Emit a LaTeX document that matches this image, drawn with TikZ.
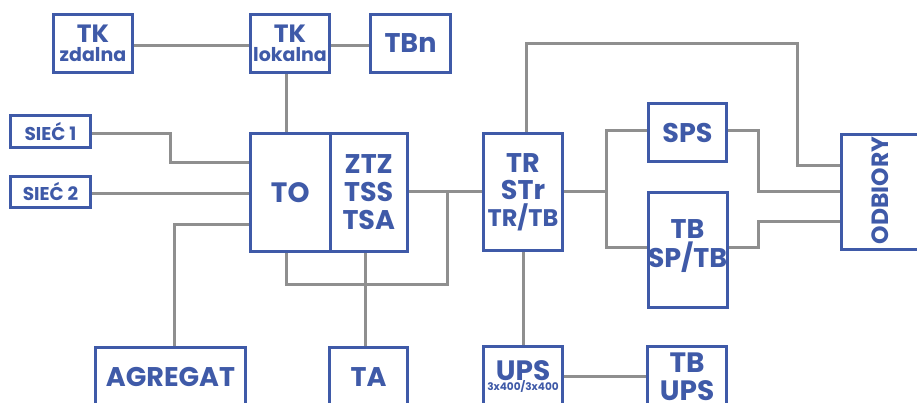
\documentclass[tikz,border=0pt]{standalone}
\usepackage{fontspec}
\setmainfont{Poppins}
\definecolor{bl}{HTML}{3F5AA8}
\definecolor{gr}{HTML}{8F8F8F}
\newcommand\myfs[2]{\fontsize{#1}{#2}\selectfont}
\begin{document}
\begin{tikzpicture}[x=1pt,y=-1pt,
  box/.style={draw=bl, line width=3pt, fill=white, inner sep=0pt, text=bl, align=center},
  lbl/.style={text=bl, inner sep=0pt, align=center},
  wire/.style={draw=gr, line width=3pt}]
\clip (0,0) rectangle (917,403);
\fill[white] (0,0) rectangle (917,403);
% boxes
\node[box, minimum width=79, minimum height=58, font=\bfseries\myfs{25}{19}] (tkz) at (93,43.5) {TK\\\myfs{19}{19}zdalna};
\node[box, minimum width=79, minimum height=58, font=\bfseries\myfs{25}{19}] (tkl) at (290,43.5) {TK\\\myfs{19}{19}lokalna};
\node[box, minimum width=80, minimum height=58, font=\bfseries\myfs{27}{27}] (tbn) at (410.5,43.5) {TBn};
\node[box, minimum width=80, minimum height=32, font=\bfseries\myfs{18.5}{18.5}] (s1) at (50.5,131.5) {SIEĆ 1};
\node[box, minimum width=80, minimum height=31, font=\bfseries\myfs{18.5}{18.5}] (s2) at (50.5,192) {SIEĆ 2};
\node[box, minimum width=79.5, minimum height=118, font=\bfseries\myfs{28}{28}] (to) at (290.25,192.5) {TO};
\node[box, minimum width=77.5, minimum height=118, font=\bfseries\myfs{27}{28}] (ztz) at (368.75,192.5) {ZTZ\\TSS\\TSA};
\node[box, minimum width=79, minimum height=117, font=\bfseries\myfs{27}{27}] (tr) at (523,192) {TR\\STr\\\myfs{24}{24}TR/TB};
\node[box, minimum width=78, minimum height=58, font=\bfseries\myfs{27}{27}] (sps) at (687.5,132.5) {SPS};
\node[box, minimum width=79, minimum height=115] (tbsp) at (687.5,250) {};
\node[lbl, anchor=base, font=\bfseries\myfs{27}{29}] (tbspt) at (687.5,267) {TB\\SP/TB};
\node[box, minimum width=77, minimum height=115] (odb) at (880,192) {};
\node[lbl, rotate=90, font=\bfseries\myfs{23.5}{23.5}] (odbt) at (880.5,190.5) {ODBIORY};
\node[box, anchor=north, minimum width=150, minimum height=80] (agr) at (170.5,346) {};
\node[lbl, anchor=base, font=\bfseries\myfs{27}{27}] (agrt) at (170.5,386) {AGREGAT};
\node[box, anchor=north, minimum width=78, minimum height=80] (ta) at (368.5,346) {};
\node[lbl, anchor=base, font=\bfseries\myfs{27}{27}] (tat) at (368.5,386) {TA};
\node[box, anchor=north, minimum width=79, minimum height=80] (ups) at (523,345) {};
\node[lbl, anchor=base, font=\bfseries\myfs{28}{10.5}] (upst) at (523,390.5) {UPS\\\myfs{10.5}{10.5}3x400/3x400};
\node[box, anchor=north, minimum width=79, minimum height=80] (tbups) at (687,345) {};
\node[lbl, anchor=base, font=\bfseries\myfs{28}{28}] (tbupst) at (687,400) {TB\\UPS};
% routing points
\coordinate (j1) at (170,163);
\coordinate (j2) at (174,225);
\coordinate (j3) at (286,284);
\coordinate (j4) at (447,284);
\coordinate (j5) at (447,192);
\coordinate (k1) at (606,192);
\coordinate (k2) at (606,131);
\coordinate (k3) at (606,247);
% wires
\draw[wire] (tkz.east |- 0,46) -- (tkl.west |- 0,46);
\draw[wire] (tkl.east |- 0,46) -- (tbn.west |- 0,46);
\draw[wire] (tkl.south -| 286,0) -- (to.north -| 286,0);
\draw[wire] (s1.east |- 0,134) -| (j1) -- (to.west |- j1);
\draw[wire] (s2.east |- 0,194) -- (to.west |- 0,194);
\draw[wire] (to.west |- j2) -| (agr.north -| j2);
\draw[wire] (ztz.east |- 0,192) -- (tr.west |- 0,192);
\draw[wire] (to.south -| j3) -- (j3) -- (j4) -- (j5);
\draw[wire] (ztz.south -| 365,0) -- (ta.north -| 365,0);
\draw[wire] (tr.north -| 526,0) |- (797,44) |- (odb.west |- 0,166);
\draw[wire] (tr.east |- k1) -- (k1);
\draw[wire] (sps.west |- k2) -- (k2) -- (k3) -- (tbsp.west |- k3);
\draw[wire] (sps.east |- k2) -| (758,192) -- (odb.west |- 0,192);
\draw[wire] (tbsp.east |- k3) -| (758,222) -- (odb.west |- 0,222);
\draw[wire] (tr.south) -- (ups.north);
\draw[wire] (ups.east |- 0,376) -- (tbups.west |- 0,376);
\end{tikzpicture}
\end{document}
